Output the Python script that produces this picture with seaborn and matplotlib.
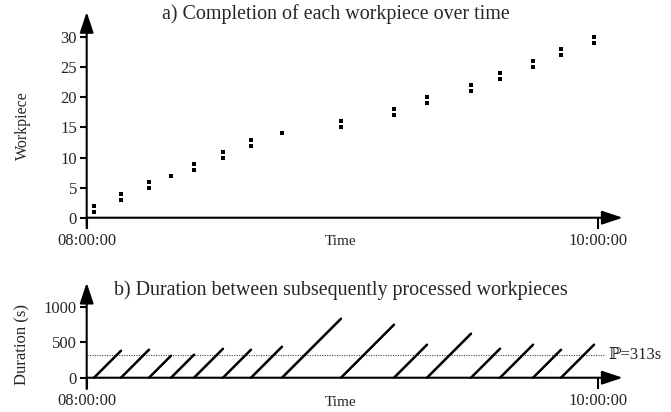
import numpy as np
import pandas as pd
import matplotlib
matplotlib.use('Agg')
import matplotlib.pyplot as plt
import seaborn as sns

# completion times (seconds after 08:00:00) and how many pieces finished then
batch_times = [103, 483, 878, 1188, 1512, 1920, 2315, 2752, 3583,
               4330, 4795, 5415, 5824, 6289, 6683, 7148]
batch_sizes = [2, 2, 2, 1, 2, 2, 2, 1, 2, 2, 2, 2, 2, 2, 2, 2]
period = 313
x_ticks = [0, 7200]
x_ticklabels = ['08:00:00', '10:00:00']
top_yticks = [0, 5, 10, 15, 20, 25, 30]
bot_yticks = [0, 500, 1000]

sns.set_theme(style='white')
plt.rcParams['font.family'] = ['Liberation Serif', 'DejaVu Serif', 'DejaVu Sans']
plt.rcParams['font.size'] = 12

# one row per workpiece
times = np.repeat(batch_times, batch_sizes)
df_top = pd.DataFrame({'t': times, 'piece': np.arange(1, len(times) + 1)})

# sawtooth: time since previous completion, reset at every completion
rows = []
for i in range(1, len(batch_times)):
    t0, t1 = batch_times[i - 1], batch_times[i]
    rows.append({'seg': i, 't': t0, 'd': 0})
    rows.append({'seg': i, 't': t1, 'd': t1 - t0})
df_bot = pd.DataFrame(rows)

fig = plt.figure(figsize=(6.71, 4.12), dpi=100)
ax1 = fig.add_axes([0.1292, 0.4466, 0.7988, 0.5243])
ax2 = fig.add_axes([0.1292, 0.0558, 0.7988, 0.258])

sns.scatterplot(data=df_top, x='t', y='piece', marker='s', s=12.5,
                color='black', linewidth=0, ax=ax1)
sns.lineplot(data=df_bot, x='t', y='d', units='seg', estimator=None,
             color='black', lw=1.8, ax=ax2)
ax2.axhline(period, xmax=0.965, color='#444444',
            lw=0.8, ls=(0, (1, 1.2)), zorder=1)
ax2.text(7355, period, '\u2119=313s', va='center', ha='left', fontsize=12)

xmax = 7552
for ax, ylo, yhi, yt in [(ax1, -1.71, 34.2, top_yticks),
                         (ax2, -159, 1338, bot_yticks)]:
    ax.set_xlim(0, xmax)
    ax.set_ylim(ylo, yhi)
    for s in ax.spines.values():
        s.set_visible(False)
    ax.spines['bottom'].set_position(('data', 0))
    ax.set_xticks(x_ticks)
    ax.set_xticklabels(x_ticklabels)
    ax.set_yticks(yt)
    ax.tick_params(axis='x', direction='out', length=8, width=1.5,
                   color='black', pad=3, bottom=True, labelsize=12)
    ax.tick_params(axis='y', direction='out', length=5, width=1.5,
                   color='black', pad=2, left=True, labelsize=12)
    ax.set_xlabel('')
    ax.set_ylabel('')
    arrow = dict(arrowstyle='-|>,head_length=1.05,head_width=0.35',
                 lw=1.5, color='black', shrinkA=0, shrinkB=0)
    ax.annotate('', xy=(0, 1), xytext=(0, 0),
                xycoords=('data', 'axes fraction'), arrowprops=arrow)
    ax.annotate('', xy=(1, 0), xytext=(0, 0),
                xycoords=('axes fraction', 'data'), arrowprops=arrow)

fig.text(0.50, 0.966, 'a) Completion of each workpiece over time',
         ha='center', va='center', fontsize=14.4)
fig.text(0.508, 0.296, 'b) Duration between subsequently processed workpieces',
         ha='center', va='center', fontsize=14.4)
fig.text(0.507, 0.413, 'Time', ha='center', va='center', fontsize=11)
fig.text(0.507, 0.022, 'Time', ha='center', va='center', fontsize=11)
fig.text(0.034, 0.695, 'Workpiece', rotation=90, ha='center', va='center', fontsize=11.5)
fig.text(0.034, 0.165, 'Duration (s)', rotation=90, ha='center', va='center', fontsize=12)

fig.savefig('out.png', dpi=100, facecolor='white')
